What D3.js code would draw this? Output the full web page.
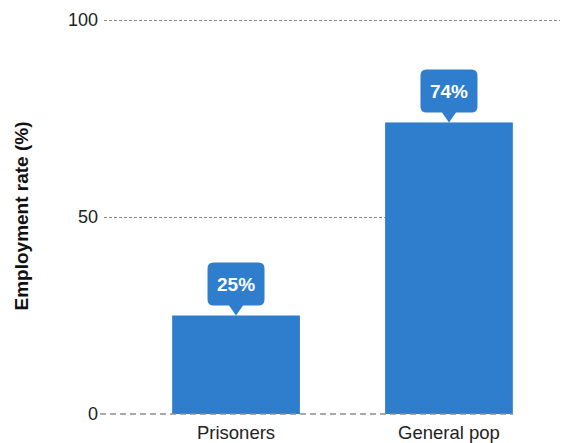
<!DOCTYPE html>
<html>
<head>
<meta charset="utf-8">
<script src="https://cdn.jsdelivr.net/npm/d3@7"></script>
<style>
  html, body { margin: 0; padding: 0; background: #fff; }
  svg { display: block; font-family: "Liberation Sans", Arial, Helvetica, sans-serif; }
</style>
</head>
<body>
<svg id="chart" width="561" height="443"></svg>
<script>
// Employment rate by group
const categories = ["Prisoners", "General pop"];
const rates = [25, 74];
const yTicks = [0, 50, 100];
const yTitle = "Employment rate (%)";

const svg = d3.select("#chart");
const barColor = "#2f7dcd";

const plot = { left: 104, right: 513, top: 20, bottom: 414 };

// band layout ends 68px past the last bar so the last bar lands on plot.right
const x = d3.scaleBand()
  .domain(categories)
  .range([plot.left, plot.right + 68])
  .paddingInner(0.4)
  .paddingOuter(0.32);

const y = d3.scaleLinear().domain([0, 100]).range([plot.bottom, plot.top]);

// gridlines (the top one runs to the edge of the canvas)
svg.append("g").selectAll("line.grid")
  .data(yTicks.filter(t => t !== 0))
  .join("line")
  .attr("class", "grid")
  .attr("x1", plot.left)
  .attr("x2", d => d === 100 ? 560 : plot.right)
  .attr("y1", d => y(d) + 0.5)
  .attr("y2", d => y(d) + 0.5)
  .attr("stroke", "#8a8a8a")
  .attr("stroke-width", 1)
  .attr("stroke-dasharray", "3,2");

// y tick labels via axis generator
const yAxis = svg.append("g")
  .attr("transform", `translate(${plot.left},0)`)
  .call(d3.axisLeft(y).tickValues(yTicks).tickSize(0).tickPadding(6).tickFormat(d3.format("d")));
yAxis.select(".domain").remove();
yAxis.selectAll("text")
  .attr("font-size", 18)
  .attr("fill", "#222")
  .attr("font-family", "Liberation Sans, Arial, sans-serif");

// bars
svg.append("g").selectAll("rect")
  .data(categories.map((c, i) => ({ c, v: rates[i] })))
  .join("rect")
  .attr("x", d => x(d.c))
  .attr("width", x.bandwidth())
  .attr("y", d => y(d.v))
  .attr("height", d => y(0) - y(d.v))
  .attr("fill", barColor);

// zero baseline
svg.append("line")
  .attr("x1", 100)
  .attr("x2", plot.right)
  .attr("y1", y(0))
  .attr("y2", y(0))
  .attr("stroke", "#8f8f8f")
  .attr("stroke-width", 1.6)
  .attr("stroke-dasharray", "6,4");

// x category labels
const xAxis = svg.append("g")
  .attr("transform", `translate(0,${plot.bottom})`)
  .call(d3.axisBottom(x).tickSize(0).tickPadding(12));
xAxis.select(".domain").remove();
xAxis.selectAll("text")
  .attr("font-size", 18.5)
  .attr("fill", "#222")
  .attr("font-family", "Liberation Sans, Arial, sans-serif");

// value callouts
const boxW = 57, boxH = 43, tipH = 10, tipHalf = 7, r = 6;
const callouts = svg.append("g").selectAll("g")
  .data(categories.map((c, i) => ({ c, v: rates[i] })))
  .join("g")
  .attr("transform", d => `translate(${x(d.c) + x.bandwidth() / 2},${y(d.v)})`);

callouts.append("path")
  .attr("fill", barColor)
  .attr("d", () => {
    const l = -boxW / 2, rr = boxW / 2, b = -tipH, t = -tipH - boxH;
    return `M${l + r},${t} H${rr - r} Q${rr},${t} ${rr},${t + r} V${b - r} Q${rr},${b} ${rr - r},${b}` +
      ` H${tipHalf} L0,0 L${-tipHalf},${b} H${l + r} Q${l},${b} ${l},${b - r} V${t + r} Q${l},${t} ${l + r},${t} Z`;
  });

callouts.append("text")
  .attr("x", 0)
  .attr("y", -tipH - boxH / 2)
  .attr("dy", "0.36em")
  .attr("text-anchor", "middle")
  .attr("fill", "#fff")
  .attr("font-weight", "bold")
  .attr("font-size", 19)
  .text(d => d.v + "%");

// y axis title
svg.append("text")
  .attr("transform", `translate(28,${(y(0) + y(100)) / 2 - 1}) rotate(-90)`)
  .attr("text-anchor", "middle")
  .attr("font-weight", "bold")
  .attr("font-size", 19)
  .attr("fill", "#111")
  .text(yTitle);
</script>
</body>
</html>
